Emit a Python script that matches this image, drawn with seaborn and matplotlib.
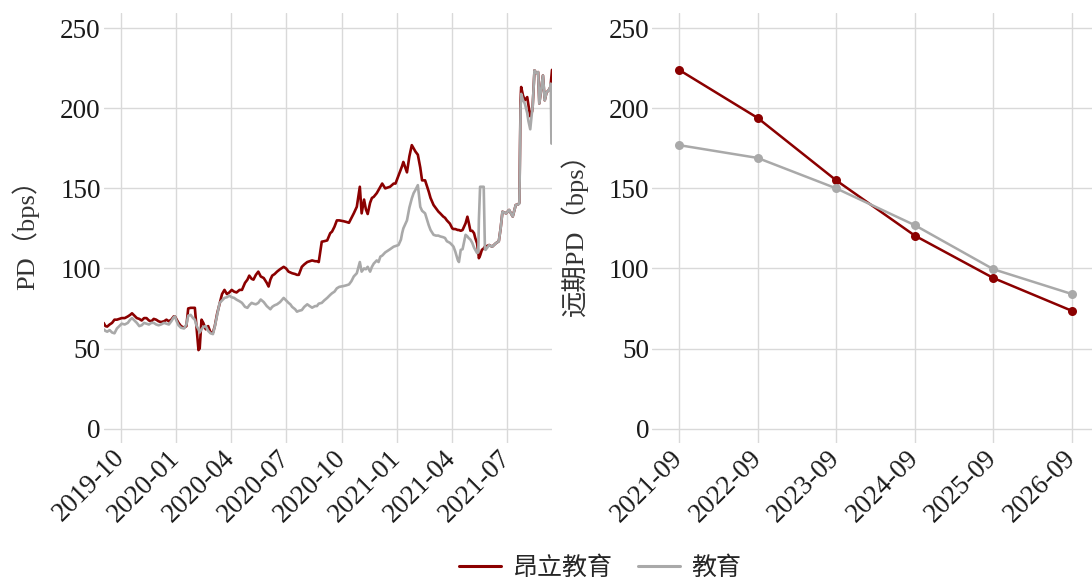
import numpy as np
import pandas as pd
import matplotlib
matplotlib.use("Agg")
import matplotlib.pyplot as plt
import matplotlib.dates as mdates
from matplotlib.lines import Line2D
import seaborn as sns

# ---------------- data ----------------
series_names = ["昂立教育", "教育"]
series_colors = ["#8B0000", "#A9A9A9"]

start_date = "2019-09-03"
obs_day = [0, 3, 6, 10, 14, 18, 22, 26, 30, 35, 40, 44, 47, 51, 55, 59, 63, 67, 71, 75,
           79, 83, 87, 91, 95, 100, 104, 108, 112, 116, 118, 121, 124, 128, 133, 137, 140, 144, 148, 151,
           154, 157, 159, 162, 165, 169, 173, 177, 181, 184, 188, 192, 196, 200, 204, 208, 212, 216, 220, 225,
           229, 234, 238, 241, 245, 248, 252, 256, 260, 265, 270, 273, 276, 279, 283, 287, 292, 298, 302, 306,
           309, 312, 317, 320, 323, 328, 332, 337, 341, 345, 350, 353, 356, 361, 365, 370, 375, 378, 382, 386,
           390, 397, 402, 406, 410, 414, 419, 424, 427, 431, 434, 437, 441, 444, 447, 452, 455, 458, 461, 466,
           470, 474, 480, 483, 488, 492, 494, 496, 502, 506, 510, 513, 516, 520, 524, 527, 532, 538, 541, 546,
           550, 554, 557, 562, 565, 568, 573, 577, 579, 582, 586, 588, 591, 594, 599, 602, 604, 607, 610, 613,
           615, 618, 620, 621, 623, 626, 629, 631, 632, 638, 643, 649, 654, 657, 660, 666, 671, 677, 682, 686,
           688, 690, 691, 694, 697, 701, 703, 706, 709, 710, 713, 716, 719, 721, 724, 727, 730, 733, 736, 739,
           740, 741, 742]

pd_angli = [66, 64, 63.7, 65, 66, 68, 68, 68.5, 69, 69, 70, 71, 72, 70.5, 69, 68.5, 67.5, 69, 69, 67.5,
            67, 68.5, 68, 67, 66.5, 67, 68, 67, 68, 70, 70, 68, 66, 64, 63, 64, 75, 75.4, 75.4, 75.4,
            62, 49, 50, 68, 66, 62, 64, 60, 60, 64, 72, 78, 84, 86.6, 84, 85, 86.6, 85.5, 85, 86.6,
            86.6, 91, 93, 95.5, 93.5, 93, 96, 98, 95, 94, 91, 88.7, 93, 95.5, 96.5, 98, 99.5, 101, 100, 98,
            97.5, 97, 96.5, 96, 96, 101, 102.5, 104, 104.5, 105, 104.5, 104.5, 104, 116.7, 117, 117.5, 122, 123, 126, 130,
            130, 129.5, 129, 128.5, 131.5, 134.4, 138.5, 151, 134.4, 143, 137, 134, 141, 144, 144.7, 147, 149, 151, 153, 150,
            150.5, 151, 153, 153, 158, 162, 164, 166.5, 160, 170, 177, 175, 173, 171, 163, 155, 155, 148, 144, 139.6,
            137.5, 135.5, 134.4, 132.4, 131.6, 130, 128, 125, 124.6, 124.6, 124, 124, 123.5, 124, 128.2, 132.3, 129, 123.5, 123.5, 122,
            119, 115.7, 110, 106.4, 108, 111.6, 112.5, 113.6, 113.6, 114.6, 113.6, 115.7, 117, 125, 135.4, 134.4, 136.5, 132.4, 139.6, 140,
            141, 205, 213.3, 208, 205, 207, 202, 195, 198, 201, 223.7, 222, 222.6, 203, 212, 220.5, 205, 210, 211, 213,
            215.4, 220, 224]

pd_edu = [62, 61, 60.5, 61.5, 60, 59.5, 62.5, 64, 65.5, 65, 66, 68, 69, 67.5, 66, 64, 64.5, 66, 65.5, 65,
          66, 66, 65, 64.5, 65, 66, 65.5, 65, 67, 69.5, 70, 67, 64.5, 63, 62.5, 65, 70.5, 71, 69, 68,
          64, 62, 60, 62, 63.5, 64, 61, 59.5, 59, 63.7, 71, 78.5, 80, 81.6, 82, 83, 82, 81.6, 80.5, 79.5,
          78.5, 76, 75.4, 77, 78.5, 78, 77.6, 78.5, 80.6, 79, 76.5, 75.5, 74.5, 76, 77, 77.6, 79, 81.6, 80, 78.5,
          77.6, 76, 74.5, 73, 73.5, 74, 76, 77.6, 76.5, 75.5, 76.5, 76.5, 78, 78.5, 80, 81.6, 83.5, 84.5, 85.5, 87.6,
          88.5, 89, 89.5, 90, 92, 95, 97, 104, 98, 100, 99.5, 101, 98, 101, 103, 105, 104, 107.4, 108, 110,
          111, 112, 113.6, 114, 114.6, 118, 122, 125, 130, 138, 143.7, 147, 149, 152, 138.5, 136, 134.4, 127, 124, 121,
          120.5, 120.5, 120, 119.5, 119, 117, 116, 114.5, 113.6, 110.5, 105.3, 104, 111.6, 112, 121, 120, 119, 118, 116, 113,
          111.6, 109.6, 110, 130, 151, 151, 151, 112, 111.6, 114.6, 113.6, 115.7, 117, 125, 135.4, 134.4, 136.5, 132.4, 139.6, 140,
          140.5, 200, 209, 205, 203, 197, 192, 186.9, 198, 201, 223.7, 222, 222.6, 203, 212, 220.5, 205, 210, 211, 213,
          215.4, 178, 178]

curve_labels = ["2021-09", "2022-09", "2023-09", "2024-09", "2025-09", "2026-09"]
fwd_angli = [224, 194, 155, 120.5, 94, 73.5]
fwd_edu = [177, 169, 150, 127, 99.5, 84]

# ---------------- frames ----------------
dates = pd.to_datetime(start_date) + pd.to_timedelta(obs_day, unit="D")
hist = pd.concat([
    pd.DataFrame({"date": dates, "pd": pd_angli, "name": series_names[0]}),
    pd.DataFrame({"date": dates, "pd": pd_edu, "name": series_names[1]}),
], ignore_index=True)

fwd = pd.concat([
    pd.DataFrame({"pos": np.arange(len(curve_labels)), "pd": fwd_angli, "name": series_names[0]}),
    pd.DataFrame({"pos": np.arange(len(curve_labels)), "pd": fwd_edu, "name": series_names[1]}),
], ignore_index=True)

# ---------------- style ----------------
sns.set_theme(style="whitegrid")
plt.rcParams["font.family"] = ["Liberation Serif", "Noto Sans CJK SC", "DejaVu Sans"]
plt.rcParams["axes.unicode_minus"] = False

W, H = 1092, 582
fig = plt.figure(figsize=(W / 100, H / 100), dpi=100)
fig.patch.set_facecolor("white")

def frac(x0, y0, x1, y1):
    return [x0 / W, 1 - y1 / H, (x1 - x0) / W, (y1 - y0) / H]

ax1 = fig.add_axes(frac(103.6, 13, 552, 443))
ax2 = fig.add_axes(frac(652, 13, 1092, 443))

palette = dict(zip(series_names, series_colors))

sns.lineplot(data=hist, x="date", y="pd", hue="name", hue_order=series_names,
             palette=palette, linewidth=1.9, legend=False, ax=ax1, estimator=None)
sns.lineplot(data=fwd, x="pos", y="pd", hue="name", hue_order=series_names,
             palette=palette, linewidth=1.8, marker="o", markersize=6.5,
             markeredgewidth=0, legend=False, ax=ax2, estimator=None)

tick_font = 19.5
grid_col = "#d9d9d9"
for ax in (ax1, ax2):
    ax.set_facecolor("white")
    for s in ax.spines.values():
        s.set_visible(False)
    ax.grid(True, color=grid_col, linewidth=1.0)
    ax.set_ylim(-9, 259.5)
    ax.set_yticks([0, 50, 100, 150, 200, 250])
    ax.tick_params(axis="both", length=0, labelsize=tick_font, colors="#1a1a1a", pad=2)
    ax.set_xlabel("")

# left axis dates
ax1.set_xlim(pd.Timestamp("2019-09-03"), pd.Timestamp("2021-09-14"))
ax1.xaxis.set_major_locator(mdates.MonthLocator(bymonth=[1, 4, 7, 10]))
ax1.xaxis.set_major_formatter(mdates.DateFormatter("%Y-%m"))

ax2.set_xlim(-0.3435, 5.2545)
ax2.set_xticks(np.arange(len(curve_labels)))
ax2.set_xticklabels(curve_labels)

for ax in (ax1, ax2):
    for lbl in ax.get_xticklabels():
        lbl.set_rotation(45)
        lbl.set_ha("right")
        lbl.set_va("center")
        lbl.set_rotation_mode("anchor")
    ax.tick_params(axis="x", pad=8)

ax1.set_ylabel("PD（bps）", fontsize=19, color="#333333", labelpad=15)
ax2.set_ylabel("远期PD（bps）", fontsize=19, color="#333333", labelpad=15)

handles = [Line2D([0], [0], color=c, linewidth=2.2) for c in series_colors]
fig.legend(handles, series_names, loc="center", bbox_to_anchor=(600 / W, 1 - 568 / H),
           ncol=2, frameon=False, handlelength=1.7, handletextpad=0.45,
           columnspacing=1.0, prop={"family": ["Noto Sans CJK SC"], "size": 18})

fig.savefig("out.png", dpi=100, facecolor="white")
